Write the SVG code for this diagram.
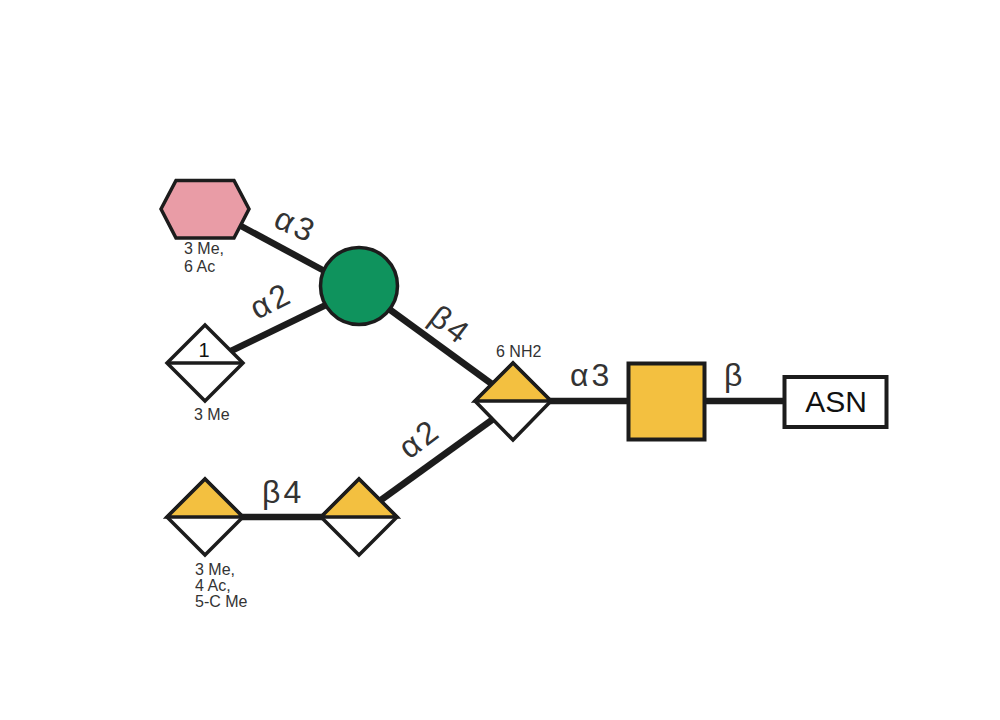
<svg xmlns="http://www.w3.org/2000/svg" width="1000" height="720" viewBox="0 0 1000 720">
<style>
.sh{stroke:#1c1c1c;stroke-width:3.500;stroke-linejoin:miter}
.w{fill:#fff}.y{fill:#f3c040}
.c{stroke:#1c1c1c;stroke-width:6.500;fill:none}
.m{stroke:#1c1c1c;stroke-width:3.500;fill:none}
text{font-family:"Liberation Sans",Arial,sans-serif}
.s{font-size:16px;fill:#333}
.l{font-size:32px;fill:#333;letter-spacing:3px}
</style>
<rect width="1000" height="720" fill="#fff"/>
<g id="connectors">
<path class="c" d="M241 226L330 274"/>
<path class="c" d="M231 351L330 303"/>
<path class="c" d="M389 309L496 387"/>
<path class="c" d="M381 500L496 417"/>
<path class="c" d="M242 517H322"/>
<path class="c" d="M549 401H630"/>
<path class="c" d="M705 401H785"/>
</g>
<g id="node-hexagon">
<polygon class="sh" points="161,209 176,180.500 234,180.500 249,209 234,238 176,238" fill="#e99ca6"/>
<text class="s" x="184" y="254">3 Me,</text>
<text class="s" x="184" y="272">6 Ac</text>
</g>
<g id="node-circle">
<circle class="sh" cx="359" cy="286" r="38.500" fill="#0f935d"/>
</g>
<g id="node-diamond-1">
<polygon class="sh w" points="205,325 243,363 205,401 167,363"/>
<path class="m" d="M167 363H243"/>
<text x="204" y="357" text-anchor="middle" font-size="20" fill="#111">1</text>
<text class="s" x="194" y="420">3 Me</text>
</g>
<g id="node-diamond-2">
<polygon class="sh w" points="205,479 243,517 205,555 167,517"/>
<polygon class="sh y" points="205,479 243,517 167,517"/>
<text class="s" x="195" y="575">3 Me,</text>
<text class="s" x="195" y="591">4 Ac,</text>
<text class="s" x="195" y="607">5-C Me</text>
</g>
<g id="node-diamond-3">
<polygon class="sh w" points="359,479 397,517 359,555 321,517"/>
<polygon class="sh y" points="359,479 397,517 321,517"/>
</g>
<g id="node-diamond-4">
<polygon class="sh w" points="513,363 551,401 513,440 475,401"/>
<polygon class="sh y" points="513,363 551,401 475,401"/>
<text class="s" x="496" y="357">6 NH2</text>
</g>
<g id="node-square">
<rect class="sh" x="628.500" y="363.500" width="76" height="76" fill="#f3c040" style="stroke-width:4"/>
</g>
<g id="node-asn">
<rect x="784.500" y="377" width="102" height="50" fill="#fff" stroke="#1c1c1c" stroke-width="4"/>
<text x="836" y="412" text-anchor="middle" font-size="30" fill="#111">ASN</text>
</g>
<g id="labels">
<text class="l" transform="translate(272,226) rotate(25)">α3</text>
<text class="l" transform="translate(257,320) rotate(-27)">α2</text>
<text class="l" transform="translate(427,321) rotate(37)">β4</text>
<text class="l" transform="translate(409,460) rotate(-37)">α2</text>
<text class="l" x="262" y="503">β4</text>
<text class="l" x="570" y="386">α3</text>
<text class="l" x="724" y="386">β</text>
</g>
</svg>
